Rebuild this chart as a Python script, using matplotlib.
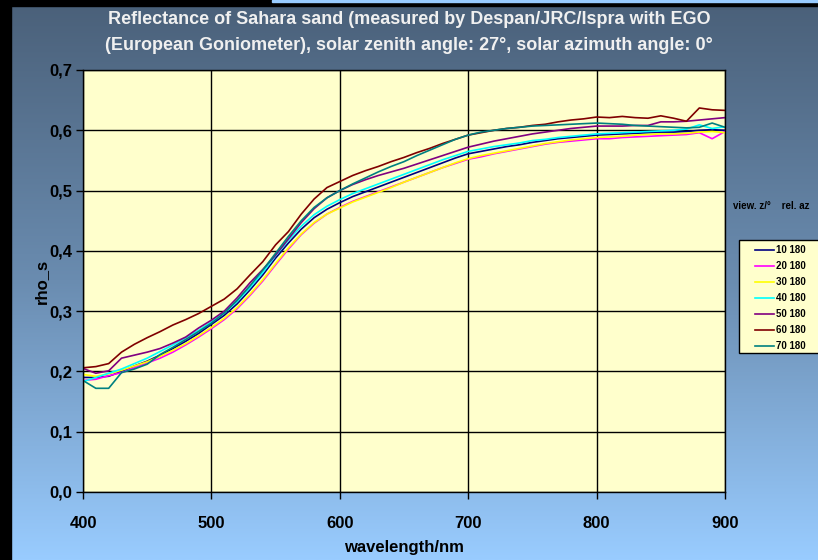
import matplotlib
matplotlib.use("Agg")
import matplotlib.pyplot as plt
import numpy as np
from matplotlib.ticker import FuncFormatter, MultipleLocator
from matplotlib.colors import LinearSegmentedColormap

plt.rcParams['font.family'] = ['Liberation Sans', 'DejaVu Sans']
plt.rcParams['font.weight'] = 'bold'

wavelength = list(range(400, 901, 10))

labels = ['10 180', '20 180', '30 180', '40 180', '50 180', '60 180', '70 180']
colors = ['#000080', '#FF00FF', '#FFFF00', '#00FFFF', '#800080', '#800000', '#008080']

rho_10 = [.190, .190, .192, .200, .209, .217, .227, .238, .250, .263,
          .278, .293, .312, .335, .360, .388, .413, .436, .455, .469,
          .480, .490, .498, .506, .514, .522, .530, .538, .546, .554,
          .561, .565, .569, .573, .576, .580, .583, .586, .588, .590,
          .592, .593, .594, .595, .596, .597, .597, .598, .600, .601, .600]
rho_20 = [.185, .187, .193, .198, .206, .214, .222, .232, .244, .257,
          .271, .286, .304, .326, .350, .377, .403, .427, .446, .461,
          .472, .482, .490, .498, .506, .514, .522, .530, .538, .545,
          .552, .556, .561, .565, .569, .573, .577, .580, .582, .584,
          .586, .586, .588, .589, .590, .591, .592, .593, .596, .586, .598]
rho_30 = [.195, .192, .196, .202, .209, .216, .225, .235, .246, .259,
          .273, .288, .306, .328, .352, .379, .405, .428, .447, .461,
          .471, .481, .489, .497, .505, .514, .522, .530, .538, .546,
          .553, .558, .562, .566, .570, .574, .578, .581, .584, .586,
          .588, .589, .590, .592, .593, .594, .594, .595, .597, .598, .596]
rho_40 = [.183, .190, .197, .204, .213, .222, .233, .244, .256, .268,
          .282, .297, .316, .339, .364, .392, .418, .441, .460, .474,
          .485, .495, .503, .511, .519, .527, .535, .543, .551, .558,
          .565, .569, .573, .576, .579, .583, .585, .588, .590, .592,
          .594, .595, .596, .597, .598, .599, .600, .602, .609, .603, .606]
rho_50 = [.205, .197, .201, .222, .227, .232, .238, .247, .257, .272,
          .285, .300, .322, .347, .369, .393, .420, .447, .470, .488,
          .500, .510, .518, .525, .531, .537, .544, .551, .558, .565,
          .572, .577, .582, .586, .590, .594, .597, .600, .603, .605,
          .607, .607, .607, .608, .608, .614, .614, .615, .617, .619, .621]
rho_60 = [.206, .208, .213, .232, .245, .256, .266, .277, .286, .296,
          .308, .320, .337, .360, .382, .410, .432, .461, .486, .505,
          .515, .525, .533, .540, .548, .555, .563, .570, .578, .585,
          .592, .596, .600, .603, .605, .608, .610, .614, .617, .619,
          .622, .621, .623, .621, .620, .624, .620, .615, .637, .634, .633]
rho_70 = [.185, .172, .172, .198, .204, .212, .228, .240, .253, .266,
          .280, .297, .318, .342, .368, .396, .424, .450, .472, .488,
          .500, .511, .521, .531, .540, .548, .558, .567, .576, .585,
          .592, .597, .600, .603, .605, .607, .608, .609, .610, .611,
          .612, .611, .610, .608, .607, .606, .605, .604, .605, .612, .605]

series = [rho_10, rho_20, rho_30, rho_40, rho_50, rho_60, rho_70]

W, H = 818, 560
fig = plt.figure(figsize=(W / 100, H / 100), dpi=100)

# background gradient + black frame bits
bg = fig.add_axes([0, 0, 1, 1], zorder=-10)
cmap = LinearSegmentedColormap.from_list('bg', ['#4A6079', '#6A8CB0', '#99CCFF'])
grad = np.linspace(0, 1, 256).reshape(-1, 1)
bg.imshow(grad, aspect='auto', cmap=cmap, extent=[0, 1, 0, 1], origin='upper')
bg.add_patch(plt.Rectangle((0, 0), 11 / W, 1, color='black'))
bg.add_patch(plt.Rectangle((0, 1 - 6 / H), 1, 6 / H, color='black'))
bg.add_patch(plt.Rectangle((272 / W, 1 - 2 / H), 1, 2 / H, color='#99CCFF'))
# legend box (runs off the right edge like the original)
bg.add_patch(plt.Rectangle((739 / W, 1 - 353 / H), 100 / W, 113 / H,
                           facecolor='#FFFFCC', edgecolor='black', lw=1.0))
bg.set_xlim(0, 1)
bg.set_ylim(0, 1)
bg.axis('off')

ax = fig.add_axes([83 / W, 68 / H, 642 / W, 422 / H])
ax.set_facecolor('#FFFFCC')
for lab, col, vals in zip(labels, colors, series):
    ax.plot(wavelength, vals, color=col, lw=1.2, label=lab)

ax.set_xlim(400, 900)
ax.set_ylim(0, 0.7)
ax.xaxis.set_major_locator(MultipleLocator(100))
ax.yaxis.set_major_locator(MultipleLocator(0.1))
ax.yaxis.set_major_formatter(FuncFormatter(lambda v, p: f'{v:.1f}'.replace('.', ',')))
ax.grid(True, color='black', lw=1.0)
ax.set_axisbelow(True)
for s in ax.spines.values():
    s.set_color('black')
    s.set_linewidth(1.0)
ax.tick_params(axis='both', direction='out', length=5, width=1, colors='black', labelsize=12)
ax.tick_params(axis='x', pad=12)
ax.tick_params(axis='y', pad=3)
for t in ax.get_xticklabels() + ax.get_yticklabels():
    t.set_fontweight('bold')

ax.set_xlabel('wavelength/nm', fontsize=12, fontweight='bold', labelpad=7)
ax.set_ylabel('rho_s', fontsize=12, fontweight='bold', labelpad=0)

fig.text(0.5, 1 - 19 / H, 'Reflectance of Sahara sand (measured by Despan/JRC/Ispra with EGO',
         ha='center', va='center', fontsize=13, fontweight='bold', color='#F0F0F0')
fig.text(0.5, 1 - 45 / H, '(European Goniometer), solar zenith angle: 27°, solar azimuth angle: 0°',
         ha='center', va='center', fontsize=13, fontweight='bold', color='#F0F0F0')

fig.text(733 / W, 1 - 206 / H, 'view. z/°    rel. az', ha='left', va='center',
         fontsize=7, fontweight='bold', color='black')

handles, labs = ax.get_legend_handles_labels()
leg = fig.legend(handles, labs, loc='upper left', bbox_to_anchor=(755 / W, 1 - 245 / H),
                 frameon=False, fontsize=7, handlelength=2.0, handletextpad=0.15,
                 labelspacing=0.62, borderpad=0, borderaxespad=0)
for t in leg.get_texts():
    t.set_fontweight('bold')

fig.savefig('out.png', dpi=100)
